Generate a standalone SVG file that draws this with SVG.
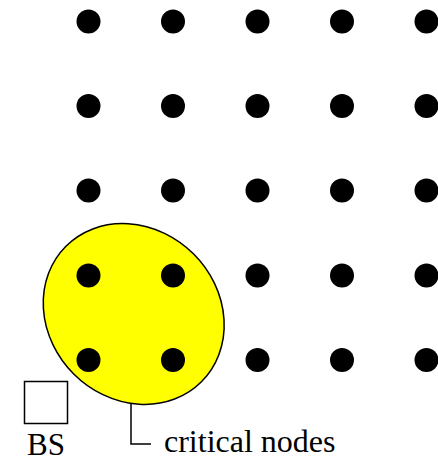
<svg xmlns="http://www.w3.org/2000/svg" width="438" height="456" viewBox="0 0 438 456">
<style>
.dot{fill:#000}
.ln{fill:none;stroke:#000;stroke-width:1.5}
.lbl{font-family:'Liberation Serif','Times New Roman',serif;fill:#000}
</style>
<rect width="438" height="456" fill="#fff"/>
<g id="critical-region">
<ellipse cx="133.7" cy="314" rx="95.8" ry="84.8" transform="rotate(45 133.7 314)" fill="#ffff00" stroke="#000" stroke-width="1.5"/>
</g>
<g id="nodes">
<g id="n00"><circle class="dot" cx="88.5" cy="21.5" r="12"/></g>
<g id="n01"><circle class="dot" cx="173" cy="21.5" r="12"/></g>
<g id="n02"><circle class="dot" cx="257.5" cy="21.5" r="12"/></g>
<g id="n03"><circle class="dot" cx="342" cy="21.5" r="12"/></g>
<g id="n04"><circle class="dot" cx="426.5" cy="21.5" r="12"/></g>
<g id="n10"><circle class="dot" cx="88.5" cy="106" r="12"/></g>
<g id="n11"><circle class="dot" cx="173" cy="106" r="12"/></g>
<g id="n12"><circle class="dot" cx="257.5" cy="106" r="12"/></g>
<g id="n13"><circle class="dot" cx="342" cy="106" r="12"/></g>
<g id="n14"><circle class="dot" cx="426.5" cy="106" r="12"/></g>
<g id="n20"><circle class="dot" cx="88.5" cy="190.5" r="12"/></g>
<g id="n21"><circle class="dot" cx="173" cy="190.5" r="12"/></g>
<g id="n22"><circle class="dot" cx="257.5" cy="190.5" r="12"/></g>
<g id="n23"><circle class="dot" cx="342" cy="190.5" r="12"/></g>
<g id="n24"><circle class="dot" cx="426.5" cy="190.5" r="12"/></g>
<g id="n30"><circle class="dot" cx="88.5" cy="275.5" r="12"/></g>
<g id="n31"><circle class="dot" cx="173" cy="275.5" r="12"/></g>
<g id="n32"><circle class="dot" cx="257.5" cy="275.5" r="12"/></g>
<g id="n33"><circle class="dot" cx="342" cy="275.5" r="12"/></g>
<g id="n34"><circle class="dot" cx="426.5" cy="275.5" r="12"/></g>
<g id="n40"><circle class="dot" cx="88.5" cy="360" r="12"/></g>
<g id="n41"><circle class="dot" cx="173" cy="360" r="12"/></g>
<g id="n42"><circle class="dot" cx="257.5" cy="360" r="12"/></g>
<g id="n43"><circle class="dot" cx="342" cy="360" r="12"/></g>
<g id="n44"><circle class="dot" cx="426.5" cy="360" r="12"/></g>
</g>
<g id="bs">
<rect x="24.5" y="381.5" width="43" height="42" fill="#fff" stroke="#000" stroke-width="1.5"/>
<text class="lbl" x="27" y="455" font-size="31">BS</text>
</g>
<g id="connectors">
<path class="ln" d="M131 403 V444 H151"/>
</g>
<g id="label">
<text class="lbl" x="164" y="452" font-size="32">critical nodes</text>
</g>
</svg>
